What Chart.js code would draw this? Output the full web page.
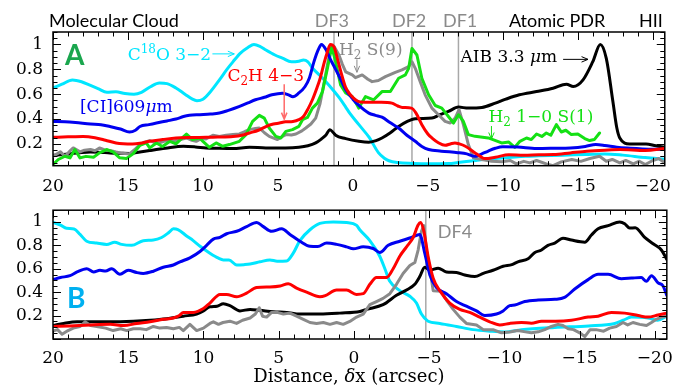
<!DOCTYPE html>
<html>
<head>
<meta charset="utf-8">
<script src="https://cdn.jsdelivr.net/npm/chart.js@4.4.0/dist/chart.umd.min.js"></script>
<style>
  body { margin: 0; background: #fff; }
  #wrap { position: relative; width: 682px; height: 390px; }
  canvas { position: absolute; left: 0; }
  #cutA { top: 0; }
  #cutB { top: 190px; }
</style>
</head>
<body>
<div id="wrap">
  <canvas id="cutA" width="682" height="200"></canvas>
  <canvas id="cutB" width="682" height="200"></canvas>
</div>
<script>
// normalised intensity cuts across the PDR, offset dx in arcsec (x runs from 20 to -20.8)
const X_MIN = -20.8, X_MAX = 20;
const xTickVals = [20, 15, 10, 5, 0, -5, -10, -15, -20];
const yTickVals = [0.2, 0.4, 0.6, 0.8, 1];

// dissociation-front positions
const frontsA = [1.26, -3.94, -7.04];
const frontsB = [-4.78];

// ---- cut A ----
const c18oA = [[20,0.65],[19.4,0.68],[18.7,0.715],[18.1,0.70],[17.5,0.67],[17,0.645],[16.4,0.615],[15.8,0.62],[15.2,0.605],[14.6,0.60],[14.1,0.615],[13.5,0.66],[12.9,0.69],[12.4,0.685],[11.8,0.65],[11.2,0.60],[10.7,0.56],[10.4,0.548],[10,0.56],[9.5,0.62],[8.9,0.715],[8.4,0.80],[8,0.86],[7.5,0.93],[7,0.975],[6.6,1.0],[6.2,0.985],[5.8,0.955],[5.2,0.915],[4.7,0.89],[4.1,0.86],[3.6,0.865],[3.3,0.875],[3.0,0.86],[2.7,0.81],[2.2,0.75],[1.8,0.70],[1.3,0.63],[0.9,0.57],[0.5,0.50],[0.2,0.445],[-0.4,0.355],[-1.1,0.25],[-1.7,0.13],[-2.1,0.085],[-2.4,0.065],[-3,0.05],[-4,0.043],[-5,0.04],[-6.4,0.042],[-7,0.05],[-8.2,0.067],[-9.2,0.08],[-10.4,0.09],[-11.5,0.10],[-12.4,0.104],[-14,0.11],[-15.5,0.115],[-16.8,0.12],[-18,0.11],[-19.5,0.09],[-20.8,0.077]];
const ciA = [[20,0.38],[19.2,0.378],[18.5,0.372],[17.5,0.36],[16.8,0.355],[16.2,0.34],[15.5,0.32],[14.9,0.296],[14.5,0.31],[14.2,0.34],[13.6,0.355],[13.1,0.368],[12.4,0.385],[11.8,0.40],[11.3,0.42],[10.9,0.43],[10.2,0.435],[9.5,0.44],[8.9,0.448],[8.3,0.47],[7.6,0.50],[7,0.53],[6.5,0.555],[5.9,0.575],[5.4,0.595],[4.7,0.608],[4.3,0.595],[4.0,0.58],[3.6,0.61],[3.2,0.66],[2.9,0.73],[2.6,0.86],[2.3,0.96],[2.1,1.0],[1.8,0.96],[1.5,0.88],[1.15,0.80],[0.9,0.74],[0.5,0.64],[0.0,0.56],[-0.4,0.51],[-1.06,0.448],[-1.5,0.43],[-1.94,0.415],[-2.5,0.37],[-3.05,0.328],[-3.6,0.27],[-4.16,0.221],[-4.6,0.18],[-5.05,0.155],[-5.9,0.142],[-7.0,0.13],[-7.6,0.12],[-8.15,0.10],[-8.6,0.12],[-9.0,0.141],[-9.5,0.165],[-10.0,0.178],[-11,0.175],[-12.25,0.163],[-13.4,0.165],[-14.5,0.168],[-15.5,0.18],[-16.2,0.195],[-16.8,0.188],[-17.6,0.173],[-18.5,0.165],[-19.3,0.16],[-20.8,0.155]];
const c2hA = [[20,0.253],[19,0.257],[18,0.26],[17.2,0.25],[16.5,0.23],[15.8,0.208],[14.7,0.20],[14.2,0.205],[13.55,0.221],[12.7,0.235],[11.8,0.248],[10.8,0.252],[9.8,0.253],[9,0.255],[8,0.26],[7.4,0.27],[6.9,0.288],[6.3,0.31],[5.8,0.34],[5.3,0.36],[4.9,0.368],[4.5,0.378],[4.0,0.381],[3.6,0.395],[3.3,0.421],[3.0,0.48],[2.7,0.555],[2.4,0.65],[2.2,0.72],[1.9,0.86],[1.7,0.94],[1.5,1.0],[1.26,0.98],[1.0,0.87],[0.8,0.78],[0.5,0.66],[0.2,0.60],[-0.17,0.555],[-0.5,0.537],[-1.2,0.535],[-1.9,0.536],[-2.6,0.528],[-3.0,0.505],[-3.3,0.493],[-3.9,0.488],[-4.2,0.45],[-4.6,0.355],[-5.0,0.28],[-5.3,0.245],[-5.7,0.21],[-6.15,0.189],[-6.5,0.20],[-6.8,0.208],[-7.1,0.20],[-7.5,0.181],[-8.15,0.128],[-8.5,0.10],[-8.8,0.082],[-9.5,0.093],[-10.4,0.113],[-11.4,0.109],[-12.4,0.113],[-13.4,0.115],[-14.5,0.128],[-15.6,0.141],[-16.8,0.15],[-17.8,0.155],[-19.5,0.147],[-20.8,0.163]];
const aibA = [[20,0.109],[19.3,0.115],[18.9,0.12],[18.2,0.13],[17.5,0.136],[16.8,0.132],[16.2,0.128],[15.5,0.125],[14.9,0.123],[14.2,0.135],[13.55,0.147],[12.5,0.165],[11.3,0.181],[10.5,0.176],[9.8,0.168],[9,0.165],[8,0.163],[6.9,0.173],[5.8,0.168],[4.5,0.168],[3.6,0.173],[3,0.185],[2.48,0.208],[2.1,0.24],[1.81,0.27],[1.53,0.315],[1.3,0.29],[1.15,0.27],[0.48,0.243],[-0.4,0.221],[-1.06,0.213],[-1.5,0.225],[-1.94,0.248],[-2.5,0.29],[-3.05,0.341],[-3.6,0.38],[-4.16,0.403],[-5.27,0.408],[-5.8,0.435],[-6.37,0.461],[-7.04,0.496],[-7.7,0.488],[-8.6,0.493],[-9.5,0.528],[-10.2,0.56],[-11.1,0.595],[-12.25,0.621],[-13.35,0.648],[-14.24,0.68],[-14.7,0.661],[-15.35,0.715],[-16.0,0.861],[-16.5,1.0],[-16.9,0.888],[-17.34,0.541],[-17.6,0.33],[-17.8,0.248],[-18.45,0.20],[-19.55,0.20],[-20.2,0.185],[-20.8,0.173]];
const h2s9A = [[20,0.101],[19.5,0.136],[19.2,0.10],[18.9,0.14],[18.65,0.168],[18.2,0.136],[17.9,0.15],[17.5,0.155],[17.2,0.145],[16.9,0.168],[16.5,0.15],[16.2,0.147],[15.8,0.135],[15.5,0.128],[14.9,0.12],[14.5,0.16],[14.2,0.195],[13.9,0.215],[13.55,0.227],[13.2,0.21],[12.9,0.208],[12.5,0.225],[12.0,0.221],[11.5,0.235],[11.1,0.248],[10.8,0.232],[10.45,0.221],[10.1,0.245],[9.8,0.24],[9.34,0.27],[8.9,0.26],[8.46,0.27],[8.0,0.275],[7.57,0.28],[7.2,0.30],[6.9,0.315],[6.5,0.325],[6.24,0.328],[5.9,0.29],[5.58,0.261],[5.03,0.235],[4.7,0.26],[4.47,0.275],[4.1,0.272],[3.8,0.28],[3.4,0.305],[3.14,0.328],[2.8,0.36],[2.48,0.408],[2.2,0.52],[2.03,0.621],[1.7,0.835],[1.48,0.968],[1.26,0.985],[0.93,0.915],[0.7,0.84],[0.48,0.78],[0.04,0.755],[-0.17,0.733],[-0.62,0.755],[-1.0,0.72],[-1.28,0.701],[-1.7,0.71],[-2.17,0.741],[-2.83,0.776],[-3.27,0.795],[-3.72,0.821],[-3.94,0.861],[-4.16,0.808],[-4.49,0.701],[-4.82,0.595],[-5.27,0.488],[-5.71,0.435],[-6.15,0.381],[-6.49,0.368],[-6.82,0.408],[-7.08,0.475],[-7.37,0.355],[-7.7,0.195],[-8.04,0.088],[-8.6,0.075],[-9.25,0.061],[-9.92,0.056],[-10.5,0.067],[-10.9,0.04],[-11.4,0.06],[-11.8,0.048],[-12.25,0.067],[-12.9,0.04],[-13.35,0.025],[-13.9,0.056],[-14.6,0.075],[-15.2,0.06],[-15.8,0.083],[-16.45,0.101],[-16.9,0.061],[-17.3,0.075],[-17.8,0.048],[-18.2,0.067],[-18.7,0.04],[-19.1,0.061],[-19.5,0.035],[-20.0,0.067],[-20.4,0.083],[-20.8,0.048]];
const h2s1A = [[20,0.035],[19.65,0.075],[19.2,0.101],[18.87,0.088],[18.54,0.155],[18.2,0.088],[17.8,0.10],[17.3,0.093],[16.9,0.128],[16.43,0.155],[16.0,0.136],[15.55,0.088],[15.1,0.083],[14.66,0.12],[14.2,0.189],[13.78,0.208],[13.55,0.168],[13.1,0.208],[12.7,0.18],[12.2,0.221],[11.8,0.20],[11.34,0.253],[11.1,0.28],[10.7,0.235],[10.23,0.248],[10.0,0.221],[9.57,0.173],[9.12,0.208],[8.68,0.181],[8.24,0.195],[7.57,0.221],[7.13,0.275],[6.69,0.381],[6.24,0.43],[5.91,0.408],[5.58,0.328],[5.14,0.261],[4.8,0.248],[4.47,0.301],[4.03,0.315],[3.6,0.341],[3.36,0.395],[3.03,0.413],[2.7,0.488],[2.37,0.528],[2.03,0.621],[1.7,0.808],[1.41,0.981],[1.15,0.861],[0.82,0.675],[0.48,0.61],[0.04,0.58],[-0.2,0.53],[-0.39,0.488],[-0.84,0.581],[-1.39,0.555],[-1.94,0.621],[-2.5,0.621],[-3.05,0.728],[-3.5,0.755],[-3.72,0.808],[-3.94,0.968],[-4.27,0.915],[-4.6,0.728],[-5.05,0.595],[-5.49,0.509],[-5.93,0.488],[-6.37,0.421],[-6.71,0.368],[-7.04,0.435],[-7.37,0.381],[-7.7,0.275],[-8.15,0.261],[-9.03,0.248],[-9.92,0.208],[-10.4,0.215],[-10.8,0.173],[-11.14,0.221],[-11.58,0.248],[-11.9,0.235],[-12.25,0.28],[-12.6,0.26],[-12.9,0.288],[-13.2,0.27],[-13.57,0.355],[-13.9,0.296],[-14.2,0.31],[-14.57,0.275],[-15.0,0.28],[-15.46,0.243],[-15.79,0.227],[-16.1,0.235],[-16.45,0.288]];

// ---- cut B ----
const c18oB = [[20,0.995],[19.5,0.973],[19.1,0.945],[18.6,0.94],[18.2,0.893],[17.76,0.835],[17.1,0.819],[16.43,0.808],[15.9,0.827],[15.44,0.808],[14.77,0.80],[14.0,0.84],[13.33,0.845],[12.78,0.867],[12.3,0.91],[12.0,0.941],[11.7,0.935],[11.12,0.88],[10.68,0.84],[10.2,0.79],[9.57,0.733],[9.0,0.69],[8.68,0.675],[8.3,0.675],[7.79,0.632],[7.3,0.635],[6.9,0.64],[6.24,0.659],[5.58,0.675],[5.1,0.665],[4.47,0.667],[4.03,0.733],[3.59,0.84],[2.92,0.933],[2.26,0.987],[1.37,1.0],[0.49,0.995],[-0.18,0.97],[-0.39,0.933],[-1.06,0.84],[-1.72,0.707],[-2.06,0.60],[-2.39,0.493],[-3.05,0.413],[-3.72,0.365],[-4.16,0.307],[-4.49,0.213],[-4.93,0.152],[-5.71,0.133],[-6.82,0.107],[-7.93,0.08],[-9.03,0.067],[-10.03,0.06],[-11.14,0.08],[-13.35,0.099],[-15.6,0.112],[-17.34,0.133],[-17.9,0.16],[-18.45,0.187],[-19.55,0.179],[-20.2,0.16],[-20.8,0.195]];
const ciB = [[20,0.507],[19.5,0.525],[18.87,0.541],[18.4,0.573],[17.76,0.60],[17.3,0.573],[16.88,0.587],[16.5,0.58],[16.1,0.60],[15.55,0.552],[15.0,0.587],[14.44,0.568],[14.0,0.56],[13.33,0.579],[12.67,0.613],[12.0,0.632],[11.56,0.659],[10.9,0.693],[10.23,0.747],[9.79,0.80],[9.34,0.853],[8.9,0.867],[8.46,0.899],[7.79,0.92],[7.13,0.96],[6.46,0.995],[6.02,0.96],[5.47,0.92],[4.8,0.941],[4.25,0.893],[3.59,0.835],[2.92,0.792],[2.4,0.79],[1.81,0.819],[1.15,0.808],[0.49,0.787],[0.04,0.77],[-0.62,0.787],[-1.28,0.773],[-1.72,0.739],[-2.28,0.80],[-3.05,0.835],[-3.83,0.867],[-4.38,0.893],[-4.71,0.733],[-5.05,0.547],[-5.49,0.44],[-6.15,0.387],[-6.82,0.32],[-7.48,0.28],[-8.15,0.24],[-8.7,0.20],[-9.48,0.213],[-9.92,0.24],[-10.36,0.285],[-10.7,0.29],[-11.36,0.32],[-12.25,0.333],[-13.35,0.339],[-14.0,0.355],[-14.68,0.427],[-15.57,0.507],[-16.23,0.552],[-16.9,0.552],[-17.78,0.515],[-18.45,0.52],[-19.1,0.525],[-19.44,0.493],[-19.78,0.541],[-20.22,0.48],[-20.55,0.453],[-20.8,0.373]];
const c2hB = [[20,0.107],[18.9,0.112],[17.5,0.12],[16.2,0.125],[15.3,0.115],[14.44,0.133],[13.55,0.147],[12.67,0.168],[12.0,0.179],[11.6,0.20],[11.34,0.227],[10.68,0.227],[10.0,0.26],[9.57,0.307],[8.9,0.381],[8.46,0.381],[7.79,0.36],[7.13,0.392],[6.46,0.44],[5.58,0.445],[4.9,0.453],[4.36,0.472],[3.81,0.435],[3.14,0.40],[2.26,0.36],[1.9,0.37],[1.15,0.419],[0.49,0.419],[-0.17,0.381],[-0.62,0.387],[-1.06,0.467],[-1.5,0.525],[-2.17,0.525],[-2.61,0.60],[-3.05,0.707],[-3.5,0.787],[-3.94,0.867],[-4.27,0.973],[-4.43,0.995],[-4.65,0.92],[-4.93,0.707],[-5.27,0.52],[-5.71,0.413],[-6.37,0.307],[-7.04,0.253],[-7.7,0.227],[-8.37,0.187],[-9.03,0.147],[-9.7,0.12],[-10.36,0.133],[-11.14,0.141],[-11.8,0.135],[-12.47,0.152],[-13.4,0.152],[-14.46,0.16],[-15.57,0.187],[-16.23,0.195],[-17.12,0.227],[-18.0,0.221],[-18.9,0.20],[-19.55,0.187],[-20.22,0.205],[-20.8,0.221]];
const aibB = [[20,0.115],[19.3,0.133],[18.4,0.147],[16.2,0.147],[14.66,0.152],[13.55,0.16],[12.45,0.173],[11.34,0.195],[10.45,0.213],[10.0,0.24],[9.57,0.275],[9.1,0.28],[8.68,0.301],[8.24,0.285],[7.57,0.24],[6.9,0.253],[6.24,0.245],[5.36,0.232],[4.47,0.227],[3.59,0.213],[2.26,0.213],[0.93,0.221],[-0.4,0.235],[-0.84,0.253],[-1.94,0.293],[-2.83,0.373],[-3.5,0.419],[-4.05,0.467],[-4.38,0.533],[-4.71,0.613],[-5.05,0.587],[-5.6,0.605],[-6.15,0.573],[-6.82,0.568],[-7.37,0.547],[-8.04,0.533],[-8.6,0.56],[-9.25,0.587],[-9.92,0.621],[-10.5,0.635],[-10.9,0.659],[-11.58,0.685],[-12.03,0.739],[-12.47,0.76],[-12.9,0.80],[-13.35,0.819],[-13.9,0.861],[-14.46,0.845],[-15.35,0.827],[-15.79,0.888],[-16.23,0.941],[-16.9,0.968],[-17.67,1.0],[-18.0,0.985],[-18.33,0.947],[-18.7,0.95],[-19.33,0.867],[-19.89,0.813],[-20.44,0.76],[-20.8,0.68]];
const h2s9B = [[20,0.067],[19.7,0.08],[19.4,0.04],[19.0,0.072],[18.65,0.093],[18.2,0.107],[17.87,0.147],[17.5,0.115],[17.1,0.107],[16.5,0.093],[16.0,0.072],[15.5,0.088],[15.1,0.072],[14.66,0.088],[14.2,0.088],[13.8,0.08],[13.33,0.107],[12.9,0.093],[12.45,0.099],[12.0,0.088],[11.6,0.099],[11.34,0.072],[10.9,0.125],[10.45,0.072],[10.0,0.093],[9.57,0.133],[9.34,0.147],[9.0,0.125],[8.7,0.141],[8.24,0.152],[7.8,0.133],[7.4,0.16],[6.9,0.179],[6.55,0.213],[6.29,0.267],[6.07,0.195],[5.8,0.187],[5.47,0.227],[5.1,0.227],[4.69,0.213],[4.25,0.221],[3.81,0.195],[3.36,0.168],[2.92,0.141],[2.48,0.133],[2.03,0.141],[1.59,0.125],[1.15,0.141],[0.71,0.125],[0.27,0.15],[-0.18,0.187],[-0.62,0.213],[-1.06,0.293],[-1.5,0.32],[-1.94,0.347],[-2.39,0.387],[-2.83,0.467],[-3.27,0.56],[-3.72,0.627],[-4.05,0.653],[-4.27,0.76],[-4.49,0.92],[-4.65,0.968],[-4.82,0.76],[-5.05,0.60],[-5.27,0.413],[-5.82,0.408],[-6.15,0.333],[-6.6,0.253],[-7.04,0.187],[-7.48,0.133],[-8.15,0.12],[-8.6,0.08],[-9.25,0.08],[-9.81,0.053],[-10.36,0.06],[-10.9,0.072],[-11.4,0.061],[-11.8,0.053],[-12.25,0.061],[-12.69,0.08],[-13.13,0.107],[-13.57,0.125],[-13.9,0.115],[-14.24,0.088],[-14.6,0.08],[-15.01,0.053],[-15.35,0.02],[-15.7,0.08],[-16.1,0.08],[-16.6,0.067],[-17.0,0.093],[-17.45,0.107],[-17.89,0.141],[-18.2,0.12],[-18.55,0.141],[-19.0,0.125],[-19.45,0.115],[-19.78,0.141],[-20.1,0.168],[-20.44,0.187],[-20.8,0.195]];

const CYAN = '#00e6ff', BLUE = '#0000f0', RED = '#ff0000', BLACK = '#000000', GRAY = '#8a8a8a', GREEN = '#14e014';
const FRONT = '#a8a8a8';
const SERIF = '"DejaVu Serif", serif';
const SANS = 'Lato, "Open Sans", sans-serif';

const toPts = arr => arr.map(([x, y]) => ({ x, y }));

function curve(data, color, rough) {
  return {
    data: toPts(data), borderColor: color, borderWidth: 3, pointRadius: 0,
    fill: false, clip: 0, borderJoinStyle: 'round', borderCapStyle: 'round',
    cubicInterpolationMode: rough ? 'default' : 'monotone', tension: rough ? 0 : 0.4
  };
}

function front(x, lo, hi) {
  return { data: [{ x, y: lo }, { x, y: hi }], borderColor: FRONT, borderWidth: 1.5, pointRadius: 0, clip: 0 };
}

// box and inward IDL-style ticks on all four sides
const frame = {
  id: 'frame',
  afterDatasetsDraw(chart) {
    const { ctx, chartArea: a, scales: { x, y } } = chart;
    ctx.save();
    ctx.strokeStyle = '#000';
    ctx.lineWidth = 1;
    ctx.beginPath();
    for (let v = Math.ceil(x.min); v <= x.max; v++) {
      const px = Math.round(x.getPixelForValue(v)) + 0.5;
      const len = v % 5 === 0 ? 8 : 4.5;
      ctx.moveTo(px, a.bottom); ctx.lineTo(px, a.bottom - len);
      ctx.moveTo(px, a.top); ctx.lineTo(px, a.top + len);
    }
    for (let k = Math.ceil(y.min / 0.05 - 1e-6); k * 0.05 <= y.max + 1e-6; k++) {
      const py = Math.round(y.getPixelForValue(k * 0.05)) + 0.5;
      const len = k % 4 === 0 ? 8 : 4.5;
      ctx.moveTo(a.left, py); ctx.lineTo(a.left + len, py);
      ctx.moveTo(a.right, py); ctx.lineTo(a.right - len, py);
    }
    ctx.stroke();
    ctx.lineWidth = 1.5;
    ctx.strokeRect(a.left, a.top, a.right - a.left, a.bottom - a.top);
    ctx.restore();
  }
};

// labels and arrows placed in data coordinates
function notes(items) {
  return {
    id: 'notes',
    afterDraw(chart) {
      const { ctx, scales: { x, y } } = chart;
      ctx.save();
      ctx.textBaseline = 'alphabetic';
      for (const it of items) {
        ctx.fillStyle = ctx.strokeStyle = it.color;
        if (it.arrow) {
          const [x1, y1, x2, y2] = it.arrow;
          const ax = x.getPixelForValue(x1), ay = y.getPixelForValue(y1);
          const bx = x.getPixelForValue(x2), by = y.getPixelForValue(y2);
          const ang = Math.atan2(by - ay, bx - ax), h = 7;
          ctx.lineWidth = it.width || 1;
          ctx.beginPath();
          ctx.moveTo(ax, ay); ctx.lineTo(bx, by);
          ctx.moveTo(bx - h * Math.cos(ang - 0.4), by - h * Math.sin(ang - 0.4));
          ctx.lineTo(bx, by);
          ctx.lineTo(bx - h * Math.cos(ang + 0.4), by - h * Math.sin(ang + 0.4));
          ctx.stroke();
          continue;
        }
        const size = it.size || 17, fam = it.family || SERIF;
        const fontOf = p => {
          const s = p[1] === 'sub' || p[1] === 'sup' ? Math.round(size * 0.68) : size;
          return (p[1] === 'it' ? 'italic ' : '') + (it.bold ? 'bold ' : '') + s + 'px ' + fam;
        };
        let w = 0;
        for (const p of it.t) { ctx.font = fontOf(p); w += ctx.measureText(p[0]).width; }
        let cx = x.getPixelForValue(it.x);
        if (it.align === 'center') cx -= w / 2;
        const cy = y.getPixelForValue(it.y);
        for (const p of it.t) {
          ctx.font = fontOf(p);
          const dy = p[1] === 'sup' ? -size * 0.42 : p[1] === 'sub' ? size * 0.24 : 0;
          ctx.fillText(p[0], cx, cy + dy);
          cx += ctx.measureText(p[0]).width;
        }
      }
      ctx.restore();
    }
  };
}

const notesA = [
  { t: [['Molecular Cloud']], x: 20.27, y: 1.138, color: BLACK, size: 18, family: SANS },
  { t: [['DF3']], x: 1.4, y: 1.138, color: GRAY, size: 18, family: SANS, align: 'center' },
  { t: [['DF2']], x: -3.75, y: 1.138, color: GRAY, size: 18, family: SANS, align: 'center' },
  { t: [['DF1']], x: -7.15, y: 1.138, color: GRAY, size: 18, family: SANS, align: 'center' },
  { t: [['Atomic PDR']], x: -13.62, y: 1.138, color: BLACK, size: 18, family: SANS, align: 'center' },
  { t: [['HII']], x: -19.87, y: 1.138, color: BLACK, size: 18, family: SANS, align: 'center' },
  { t: [['A']], x: 19.2, y: 0.832, color: '#1aa64e', size: 28, family: SANS, bold: true },
  { t: [['C'], ['18', 'sup'], ['O 3\u22122']], x: 15.02, y: 0.872, color: CYAN },
  { arrow: [9.37, 0.924, 7.91, 0.924], color: CYAN },
  { t: [['C'], ['2', 'sub'], ['H 4\u22123']], x: 8.37, y: 0.706, color: RED },
  { arrow: [4.58, 0.68, 4.58, 0.40], color: '#ff6a6a', width: 1.5 },
  { t: [['[CI]609'], ['\u03bc', 'it'], ['m']], x: 18.2, y: 0.458, color: BLUE },
  { t: [['H'], ['2', 'sub'], [' S(9)']], x: 0.93, y: 0.912, color: GRAY },
  { arrow: [-0.27, 0.88, -0.27, 0.776], color: GRAY },
  { t: [['AIB 3.3 '], ['\u03bc', 'it'], ['m']], x: -7.18, y: 0.856, color: BLACK },
  { arrow: [-14.02, 0.88, -15.68, 0.88], color: BLACK },
  { t: [['H'], ['2', 'sub'], [' 1\u22120 S(1)']], x: -9.04, y: 0.376, color: GREEN },
  { arrow: [-9.24, 0.344, -9.24, 0.24], color: GREEN }
];

const notesB = [
  { t: [['B']], x: 19.07, y: 0.262, color: '#00b0f0', size: 28, family: SANS, bold: true },
  { t: [['DF4']], x: -5.58, y: 0.864, color: GRAY, size: 18, family: SANS },
  { t: [['Distance, '], ['\u03b4', 'it'], ['x (arcsec)']], x: 0.33, y: -0.366, color: BLACK, size: 18, align: 'center' }
];

function makeCut(id, o) {
  return new Chart(document.getElementById(id), {
    type: 'line',
    data: { datasets: o.datasets },
    options: {
      responsive: false, animation: false, devicePixelRatio: 1, events: [],
      layout: { padding: { top: o.top, right: 14.5, left: 0, bottom: 0 } },
      plugins: { legend: { display: false }, tooltip: { enabled: false } },
      scales: {
        x: {
          type: 'linear', reverse: true, min: X_MIN, max: X_MAX,
          grid: { display: false, drawTicks: false }, border: { display: false },
          afterBuildTicks: s => { s.ticks = xTickVals.map(v => ({ value: v })); },
          ticks: {
            autoSkip: false, maxRotation: 0, padding: o.xPad, color: '#000',
            font: { family: SERIF, size: 17 },
            callback: v => String(v).replace('-', '\u2212')
          },
          afterFit: s => { s.height = o.xHeight; }
        },
        y: {
          type: 'linear', min: o.yMin, max: 1.1,
          grid: { display: false, drawTicks: false }, border: { display: false },
          afterBuildTicks: s => { s.ticks = yTickVals.map(v => ({ value: v })); },
          ticks: { padding: 10, color: '#000', font: { family: SERIF, size: 17 }, callback: v => String(v) },
          afterFit: s => { s.width = 53; }
        }
      }
    },
    plugins: [frame, notes(o.notes)]
  });
}

const yMinA = 0.025, yMinB = 0;

makeCut('cutA', {
  top: 32, xHeight: 34.3, xPad: 11, yMin: yMinA, notes: notesA,
  datasets: [
    curve(c2hA, RED), curve(ciA, BLUE), curve(h2s1A, GREEN, true), curve(h2s9A, GRAY, true),
    curve(aibA, BLACK), curve(c18oA, CYAN),
    ...frontsA.map(f => front(f, yMinA, 1.1))
  ]
});

makeCut('cutB', {
  top: 12.7, xHeight: 51, xPad: 9, yMin: yMinB, notes: notesB,
  datasets: [
    curve(c2hB, RED), curve(ciB, BLUE), curve(h2s9B, GRAY, true),
    curve(aibB, BLACK), curve(c18oB, CYAN),
    ...frontsB.map(f => front(f, yMinB, 1.1))
  ]
});
</script>
</body>
</html>
